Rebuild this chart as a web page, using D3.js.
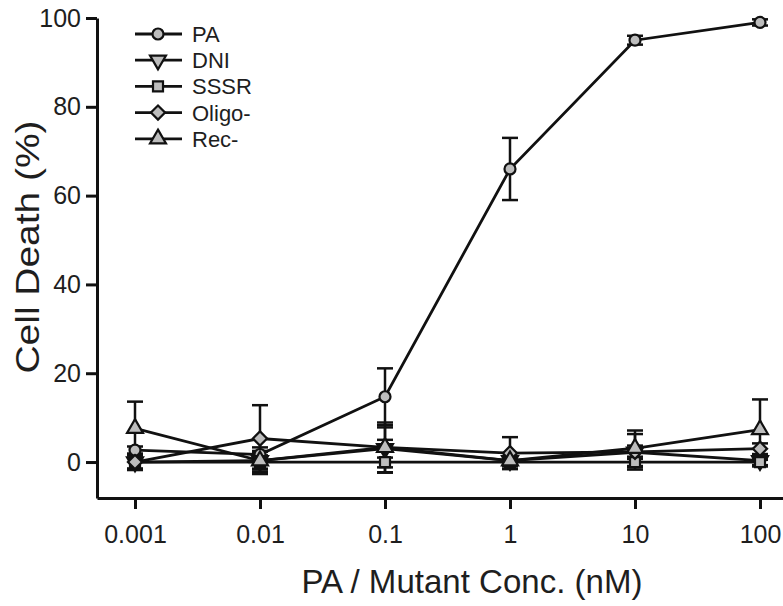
<!DOCTYPE html>
<html>
<head>
<meta charset="utf-8">
<script src="https://cdn.jsdelivr.net/npm/d3@7"></script>
<style>
  body { margin: 0; background: #fff; }
  text { font-family: "Liberation Sans", Arial, sans-serif; fill: #1e1e1e; }
</style>
</head>
<body>
<div id="chart"></div>
<script>
// data
var concs = [0.001, 0.01, 0.1, 1, 10, 100];
var tickLabels = ["0.001", "0.01", "0.1", "1", "10", "100"];
var yTicks = [0, 20, 40, 60, 80, 100];

var paVals = [2.7, 1.7, 14.7, 66, 95, 99];
var paErr = [0.8, 0.8, 6.4, 7, 1, 0.7];
var dniVals = [0, 0.3, 3, 0.3, 2.2, 0.3];
var dniErr = [1.5, 2, 2, 1, 1.5, 1];
var sssrVals = [0, 0, 0, 0, 0, 0];
var sssrErr = [1.8, 1.5, 2.4, 1, 1.2, 1];
var oligoVals = [0, 5.3, 3.3, 2, 2.3, 3];
var oligoErr = [1.5, 7.5, 4.5, 3.6, 4, 1.2];
var recVals = [7.6, 0.3, 3.3, 0.3, 3.1, 7.3];
var recErr = [6, 3, 5.6, 1, 4, 6.8];

var seriesNames = ["PA", "DNI", "SSSR", "Oligo-", "Rec-"];

var series = [
  {name: "PA", vals: paVals, err: paErr, sym: d3.symbolCircle, size: 95, rot: 0},
  {name: "DNI", vals: dniVals, err: dniErr, sym: d3.symbolTriangle, size: 110, rot: 180},
  {name: "SSSR", vals: sssrVals, err: sssrErr, sym: d3.symbolSquare, size: 100, rot: 0},
  {name: "Oligo-", vals: oligoVals, err: oligoErr, sym: d3.symbolSquare, size: 100, rot: 45},
  {name: "Rec-", vals: recVals, err: recErr, sym: d3.symbolTriangle, size: 110, rot: 0}
];

var width = 783, height = 606;

var svg = d3.select("#chart")
  .append("svg")
  .attr("width", width)
  .attr("height", height);

// x: log scale, 0.001 at 135px and 100 at 760px
var x = d3.scaleLog()
  .domain([Math.pow(10, -3.304), Math.pow(10, 2.2)])
  .range([97, 785]);

var y = d3.scaleLinear()
  .domain([-8.1, 100])
  .range([498, 18]);

var xAxis = svg.append("g")
  .attr("transform", "translate(0,498)")
  .call(d3.axisBottom(x)
    .tickValues(concs)
    .tickFormat(function(d, i) { return tickLabels[i]; })
    .tickSize(11).tickSizeOuter(0).tickPadding(16));

var yAxis = svg.append("g")
  .attr("transform", "translate(97,0)")
  .call(d3.axisLeft(y)
    .tickValues(yTicks)
    .tickSize(11).tickSizeOuter(0).tickPadding(5));

svg.selectAll(".domain, .tick line")
  .attr("stroke", "#111")
  .attr("stroke-width", 3);
svg.selectAll(".tick text")
  .attr("font-size", 25)
  .attr("font-family", "Liberation Sans, Arial, sans-serif")
  .attr("fill", "#1e1e1e");

// axis titles
svg.append("text")
  .attr("x", 472)
  .attr("y", 593)
  .attr("text-anchor", "middle")
  .attr("font-size", 34)
  .attr("textLength", 341)
  .attr("lengthAdjust", "spacingAndGlyphs")
  .text("PA / Mutant Conc. (nM)");

svg.append("text")
  .attr("transform", "translate(39,247) rotate(-90)")
  .attr("text-anchor", "middle")
  .attr("font-size", 34)
  .attr("textLength", 253)
  .attr("lengthAdjust", "spacingAndGlyphs")
  .text("Cell Death (%)");

var line = d3.line()
  .x(function(d) { return x(d.c); })
  .y(function(d) { return y(d.v); });

var capW = 8;

series.forEach(function(s) {
  var pts = concs.map(function(c, i) { return {c: c, v: s.vals[i], e: s.err[i]}; });
  var g = svg.append("g");

  // error bars
  var eb = g.selectAll(".eb").data(pts).enter().append("g");
  eb.append("line")
    .attr("x1", function(d) { return x(d.c); })
    .attr("x2", function(d) { return x(d.c); })
    .attr("y1", function(d) { return y(d.v - d.e); })
    .attr("y2", function(d) { return y(d.v + d.e); })
    .attr("stroke", "#111").attr("stroke-width", 2.5);
  [1, -1].forEach(function(sgn) {
    eb.append("line")
      .attr("x1", function(d) { return x(d.c) - capW; })
      .attr("x2", function(d) { return x(d.c) + capW; })
      .attr("y1", function(d) { return y(d.v + sgn * d.e); })
      .attr("y2", function(d) { return y(d.v + sgn * d.e); })
      .attr("stroke", "#111").attr("stroke-width", 2.5);
  });

  g.append("path")
    .datum(pts)
    .attr("d", line)
    .attr("fill", "none")
    .attr("stroke", "#111")
    .attr("stroke-width", 2.8);
});

// markers on top
series.forEach(function(s) {
  var pts = concs.map(function(c, i) { return {c: c, v: s.vals[i]}; });
  svg.append("g").selectAll("path").data(pts).enter().append("path")
    .attr("d", d3.symbol().type(s.sym).size(s.size))
    .attr("transform", function(d) {
      return "translate(" + x(d.c) + "," + y(d.v) + ") rotate(" + s.rot + ")";
    })
    .attr("fill", "#bdbdbd")
    .attr("stroke", "#111")
    .attr("stroke-width", 2.2);
});

// legend
var legend = svg.append("g").attr("transform", "translate(135,34)");
series.forEach(function(s, i) {
  var row = legend.append("g").attr("transform", "translate(0," + (i * 26.2) + ")");
  row.append("line")
    .attr("x1", 0).attr("x2", 47)
    .attr("stroke", "#111").attr("stroke-width", 2.8);
  row.append("path")
    .attr("d", d3.symbol().type(s.sym).size(s.size))
    .attr("transform", "translate(23,0) rotate(" + s.rot + ")")
    .attr("fill", "#bdbdbd")
    .attr("stroke", "#111")
    .attr("stroke-width", 2.2);
  row.append("text")
    .attr("x", 57)
    .attr("y", 8)
    .attr("font-size", 22)
    .text(seriesNames[i]);
});
</script>
</body>
</html>
